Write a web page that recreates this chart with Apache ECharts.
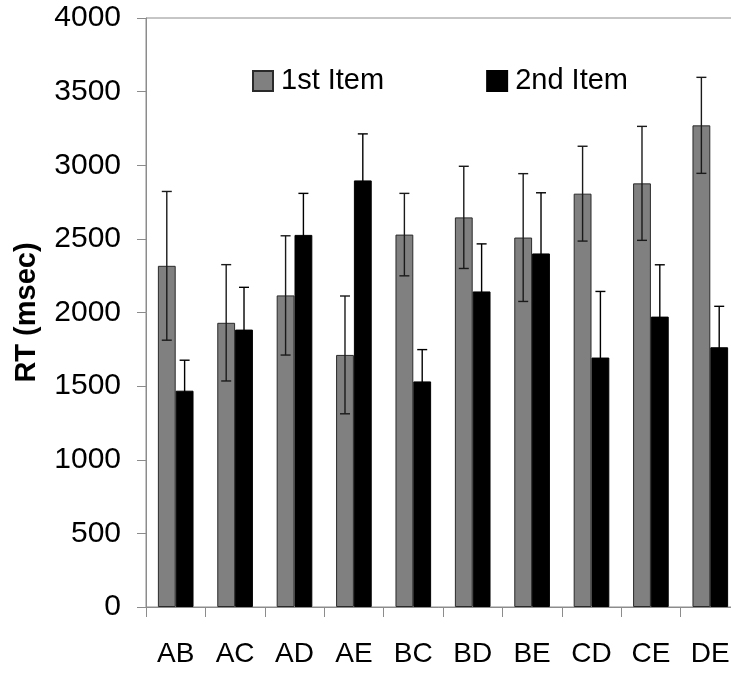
<!DOCTYPE html>
<html>
<head>
<meta charset="utf-8">
<script src="https://cdn.jsdelivr.net/npm/echarts@6/dist/echarts.min.js"></script>
<style>html,body{margin:0;padding:0;background:#fff}#c{width:731px;height:674px}</style>
</head>
<body>
<div id="c"></div>
<script>
var categories = ['AB','AC','AD','AE','BC','BD','BE','CD','CE','DE'];
var firstItem = [2317, 1930, 2116, 1712, 2529, 2646, 2509, 2807, 2877, 3271];
var firstErr  = [505, 395, 405, 400, 280, 347, 434, 322, 387, 326];
var secondItem = [1469, 1884, 2527, 2897, 1532, 2143, 2401, 1694, 1972, 1764];
var secondErr  = [207, 287, 282, 316, 216, 323, 412, 449, 352, 278];
var yTicks = [0, 500, 1000, 1500, 2000, 2500, 3000, 3500, 4000];

var FONT = '"Liberation Sans", Arial, sans-serif';
var chart = echarts.init(document.getElementById('c'));

function errData(vals, errs) {
  return vals.map(function (v, i) { return [i, v, v - errs[i], v + errs[i]]; });
}
function errSeries(name, vals, errs, side, color) {
  return {
    type: 'custom',
    name: name + ' err',
    data: errData(vals, errs),
    z: 10,
    silent: true,
    renderItem: function (params, api) {
      var idx = api.value(0);
      var band = api.size([1, 0])[0];
      var bw = band * 0.6 / 2;
      var off = side * bw / 2;
      var hi = api.coord([idx, api.value(3)]);
      var lo = api.coord([idx, api.value(2)]);
      var x = hi[0] + off;
      var cap = 5;
      var st = { stroke: color, lineWidth: 1.4 };
      return {
        type: 'group',
        children: [
          { type: 'line', shape: { x1: x, y1: hi[1], x2: x, y2: lo[1] }, style: st },
          { type: 'line', shape: { x1: x - cap, y1: hi[1], x2: x + cap, y2: hi[1] }, style: st },
          { type: 'line', shape: { x1: x - cap, y1: lo[1], x2: x + cap, y2: lo[1] }, style: st }
        ]
      };
    }
  };
}

var option = {
  animation: false,
  backgroundColor: '#fff',
  grid: {
    left: 146, top: 18, bottom: 67, right: -9,
    outerBoundsMode: 'none', containLabel: false,
    show: true, borderColor: '#8c8c8c', borderWidth: 1, backgroundColor: 'transparent'
  },
  legend: {
    data: ['1st Item', '2nd Item'],
    icon: 'rect',
    left: 252, top: 66, padding: 0,
    itemWidth: 20, itemHeight: 20, itemGap: 102,
    textStyle: { fontFamily: FONT, fontSize: 29, color: '#000', padding: [0, 0, 0, 3], lineHeight: 30 }
  },
  xAxis: {
    type: 'category',
    data: categories,
    boundaryGap: true,
    axisLine: { lineStyle: { color: '#8c8c8c', width: 1 } },
    axisTick: { show: true, length: 10, lineStyle: { color: '#8c8c8c' } },
    axisLabel: { fontFamily: FONT, fontSize: 28, color: '#000', margin: 33 },
    splitLine: { show: false }
  },
  yAxis: {
    type: 'value',
    min: 0, max: 4000, interval: 500,
    name: 'RT (msec)',
    nameLocation: 'middle',
    nameGap: 105,
    nameRotate: 90,
    nameTextStyle: { fontFamily: FONT, fontSize: 29, fontWeight: 'bold', color: '#000' },
    axisLine: { show: true, lineStyle: { color: '#8c8c8c', width: 1 } },
    axisTick: { show: true, length: 9, lineStyle: { color: '#8c8c8c' } },
    axisLabel: {
      fontFamily: FONT, fontSize: 30, color: '#000', margin: 25,
      formatter: function (v) { return yTicks.indexOf(v) >= 0 ? String(v) : ''; }
    },
    splitLine: { show: false }
  },
  series: [
    {
      name: '1st Item', type: 'bar', data: firstItem,
      barGap: '0%', barCategoryGap: '40%',
      itemStyle: { color: '#808080', borderColor: '#2a2a2a', borderWidth: 1 }
    },
    {
      name: '2nd Item', type: 'bar', data: secondItem,
      itemStyle: { color: '#000000', borderColor: '#000', borderWidth: 1 }
    },
    errSeries('1st Item', firstItem, firstErr, -1, '#1a1a1a'),
    errSeries('2nd Item', secondItem, secondErr, 1, '#000000')
  ]
};
chart.setOption(option);
</script>
</body>
</html>
